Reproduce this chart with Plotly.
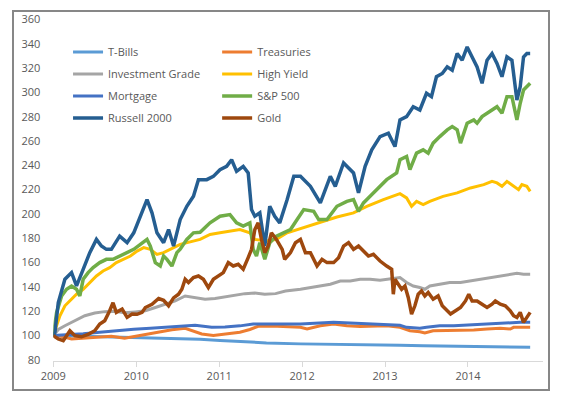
import plotly.graph_objects as go

# ---- data (decimal years, index values) ----
tb_yr = [2009.00, 2009.40, 2009.80, 2010.29, 2010.77, 2011.01, 2011.25, 2011.57, 2011.98,
         2012.38, 2012.78, 2013.18, 2013.46, 2014.07, 2014.75]
tbills = [100, 99.4, 98.5, 97.5, 97, 96, 95, 94, 93.2, 92.6, 92.3, 92, 91.7, 91.2, 90.4]

tsy_yr = [2009.00, 2009.06, 2009.22, 2009.38, 2009.54, 2009.70, 2009.86,
          2010.03, 2010.19, 2010.31, 2010.43, 2010.59, 2010.67, 2010.79, 2010.93,
          2011.09, 2011.25, 2011.37, 2011.47, 2011.63, 2011.79, 2011.98,
          2012.06, 2012.22, 2012.38, 2012.54, 2012.70, 2012.86,
          2013.02, 2013.18, 2013.30, 2013.42, 2013.48, 2013.58, 2013.74, 2013.91,
          2014.07, 2014.23, 2014.39, 2014.51, 2014.55, 2014.75]
treasuries = [100, 100, 97.2, 97.8, 98.6, 99.4, 97.8,
              99.9, 101.3, 103.2, 104.8, 106, 104, 101.3, 100,
              101.3, 102.7, 105, 107.6, 107.8, 107.6, 106.8,
              105.4, 108.1, 109.5, 108.1, 107.5, 107.5,
              108.1, 106.8, 104, 103.2, 102.1, 104, 104, 104,
              104.6, 105.4, 106, 105.4, 106.8, 106.8]

ig_yr = [2009.00, 2009.06, 2009.14, 2009.22, 2009.30, 2009.38, 2009.50, 2009.62, 2009.74, 2009.86, 2009.99,
         2010.11, 2010.23, 2010.35, 2010.47, 2010.59, 2010.71, 2010.83, 2010.95,
         2011.07, 2011.19, 2011.31, 2011.43, 2011.55, 2011.68, 2011.80, 2011.98,
         2012.10, 2012.22, 2012.34, 2012.46, 2012.58, 2012.70, 2012.82, 2012.94,
         2013.06, 2013.18, 2013.26, 2013.34, 2013.42, 2013.48, 2013.54, 2013.66, 2013.78, 2013.91,
         2014.03, 2014.15, 2014.27, 2014.39, 2014.51, 2014.59, 2014.67, 2014.75]
inv_grade = [100, 105, 108.1, 110.9, 113.6, 116.3, 118.5, 119.7, 120, 118.7, 119.5,
             120.4, 123.1, 125.8, 128.5, 132.6, 131.3, 129.9, 130.5,
             131.8, 133, 134.5, 135, 134, 134.5, 136.7, 138.1,
             139.5, 140.8, 142.2, 144.9, 144.9, 146.3, 146.3, 145.5,
             146.3, 147.7, 143.6, 140.8, 139.5, 138.1, 140.8, 142.2, 143.6, 143.6,
             144.9, 146.3, 147.7, 149, 150.4, 151.2, 150.4, 150.4]

hy_yr = [2009.00, 2009.04, 2009.08, 2009.14, 2009.20, 2009.28, 2009.36, 2009.44, 2009.52, 2009.60,
         2009.68, 2009.76, 2009.84, 2009.93,
         2010.01, 2010.09, 2010.17, 2010.25, 2010.33, 2010.41, 2010.53, 2010.77, 2010.89,
         2011.01, 2011.13, 2011.25, 2011.37, 2011.43, 2011.57, 2011.69, 2011.82, 2011.94,
         2012.06, 2012.18, 2012.30, 2012.42, 2012.62, 2012.78, 2012.98,
         2013.14, 2013.18, 2013.26, 2013.32, 2013.38, 2013.46, 2013.54, 2013.70, 2013.87,
         2014.03, 2014.19, 2014.29, 2014.35, 2014.41, 2014.47, 2014.55, 2014.61, 2014.65, 2014.71, 2014.75]
high_yield = [100, 108, 116.3, 124.5, 128.5, 134, 138.1, 143.6, 149, 153.1, 155.9, 160, 162.7, 165.4,
              169.5, 172.3, 170.9, 166.8, 168.2, 170.9, 175, 179.1, 183.2,
              184.5, 185.9, 187.2, 184.5, 179.1, 177.7, 179.1, 184.5, 187.2,
              190, 192.7, 195.4, 197.5, 200.9, 206.3, 211.8,
              215.9, 216.7, 213.2, 206.3, 210.4, 207.7, 210.4, 214.5, 217.3,
              221.4, 224.1, 226.8, 225.5, 222.7, 226.8, 222.7, 220, 224.1, 222.7, 218.6]

mbs_yr = [2009.00, 2009.16, 2009.36, 2009.56, 2009.76, 2009.97,
          2010.17, 2010.37, 2010.59, 2010.71, 2010.91,
          2011.07, 2011.25, 2011.41, 2011.61, 2011.98,
          2012.38, 2012.54, 2012.70,
          2013.02, 2013.18, 2013.26, 2013.42, 2013.50, 2013.66, 2013.83, 2013.99,
          2014.15, 2014.31, 2014.47, 2014.63, 2014.75]
mortgage = [100, 100.5, 101.5, 102.7, 104, 105.2,
            106, 106.8, 108, 108.5, 106.8,
            107, 108, 109.5, 109.5, 109.5,
            110.9, 110.5, 109.5,
            109, 108.5, 106.8, 106, 106.8, 108.1, 108.1, 108.7,
            109.5, 110, 110.3, 110.9, 110.9]

sp_yr = [2009.00, 2009.04, 2009.10, 2009.16, 2009.22, 2009.28, 2009.32, 2009.36, 2009.42, 2009.48,
         2009.56, 2009.64, 2009.72, 2009.80, 2009.89, 2009.97,
         2010.05, 2010.13, 2010.17, 2010.23, 2010.29, 2010.33, 2010.37, 2010.43, 2010.49, 2010.53,
         2010.61, 2010.69, 2010.77, 2010.89,
         2011.01, 2011.13, 2011.21, 2011.29, 2011.37, 2011.41, 2011.45, 2011.49, 2011.55, 2011.61,
         2011.69, 2011.77, 2011.86, 2011.94,
         2012.02, 2012.14, 2012.20, 2012.30, 2012.42, 2012.54, 2012.62, 2012.68, 2012.74, 2012.82, 2012.94,
         2013.02, 2013.14, 2013.18, 2013.26, 2013.30, 2013.38, 2013.46, 2013.52, 2013.58, 2013.66,
         2013.75, 2013.81, 2013.87, 2013.91, 2013.99,
         2014.07, 2014.11, 2014.17, 2014.23, 2014.29, 2014.35, 2014.41, 2014.47, 2014.53, 2014.59,
         2014.63, 2014.67, 2014.75]
sp500 = [100, 119, 132.6, 138.1, 140.8, 138.1, 132.6, 146.3, 151.8, 155.9,
         160.0, 162.7, 162.7, 165.4, 168.2, 170.9,
         175.0, 179.1, 173.6, 160.0, 157.2, 165.4, 162.7, 157.2, 168.2, 171.0,
         179.1, 184.5, 185.0, 192.7,
         198.1, 199.5, 192.7, 190.0, 192.7, 170.9, 165.4, 176.4, 162.7, 176.4,
         181.8, 184.5, 187.2, 195.4,
         203.6, 202.2, 195.4, 195.4, 206.3, 210.4, 211.8, 202.2, 209.1, 214.5, 222.7,
         228.2, 233.7, 244.6, 247.3, 236.4, 250.0, 252.7, 250.0, 258.2, 263.6,
         269.1, 271.8, 269.1, 258.2, 274.6,
         277.3, 274.6, 280.0, 282.8, 285.5, 288.2, 282.8, 296.4, 296.4, 277.3,
         291.0, 301.9, 307.4]

rus_yr = [2009.00, 2009.02, 2009.06, 2009.14, 2009.22, 2009.28, 2009.36, 2009.44, 2009.52, 2009.58,
          2009.64, 2009.70, 2009.80, 2009.89, 2009.97,
          2010.05, 2010.13, 2010.19, 2010.25, 2010.33, 2010.39, 2010.45, 2010.53, 2010.61, 2010.69,
          2010.75, 2010.85, 2010.93,
          2011.01, 2011.09, 2011.15, 2011.21, 2011.29, 2011.35, 2011.39, 2011.43, 2011.49, 2011.55,
          2011.61, 2011.67, 2011.73, 2011.82, 2011.90, 2011.98,
          2012.10, 2012.22, 2012.34, 2012.40, 2012.50, 2012.62, 2012.68, 2012.76, 2012.84, 2012.94,
          2013.04, 2013.12, 2013.18, 2013.26, 2013.34, 2013.42, 2013.50, 2013.56, 2013.62, 2013.69,
          2013.75, 2013.81, 2013.87, 2013.93, 2013.99,
          2014.05, 2014.11, 2014.17, 2014.23, 2014.29, 2014.35, 2014.41, 2014.47, 2014.53, 2014.59,
          2014.63, 2014.67, 2014.71, 2014.75]
russell = [100, 102.7, 127.2, 146.3, 151.8, 140.8, 154.5, 168.2, 179.1, 173.6,
           170.9, 170.9, 181.8, 176.4, 184.5,
           198.1, 211.8, 200.9, 184.5, 176.4, 187.2, 173.6, 195.4, 206.3, 214.5,
           228.2, 228.2, 230.9,
           236.4, 239.1, 244.6, 235.0, 239.1, 233.7, 203.6, 198.1, 200.9, 173.6,
           206.3, 198.1, 192.7, 211.8, 230.9, 230.9,
           222.7, 209.1, 230.9, 222.7, 241.9, 233.7, 217.3, 239.1, 252.7, 263.6,
           266.4, 255.4, 277.3, 280.0, 288.2, 285.5, 299.2, 296.4, 312.8, 315.5,
           320.9, 318.2, 331.9, 326.4, 337.3,
           329.1, 320.9, 307.4, 326.4, 331.9, 323.7, 312.8, 329.1, 326.4, 293.7,
           304.6, 329.1, 331.9, 331.9]

gold_yr = [2009.00, 2009.06, 2009.12, 2009.20, 2009.26, 2009.34, 2009.42, 2009.50, 2009.56, 2009.62,
           2009.68, 2009.72, 2009.76, 2009.83, 2009.89, 2009.95,
           2010.01, 2010.07, 2010.11, 2010.19, 2010.27, 2010.33, 2010.39, 2010.45, 2010.51, 2010.55,
           2010.59, 2010.63, 2010.69, 2010.75, 2010.81, 2010.87, 2010.93, 2010.99,
           2011.05, 2011.11, 2011.17, 2011.23, 2011.29, 2011.35, 2011.39, 2011.43, 2011.47, 2011.51,
           2011.55, 2011.59, 2011.63, 2011.69, 2011.76, 2011.79, 2011.86, 2011.92, 2011.98,
           2012.04, 2012.10, 2012.18, 2012.24, 2012.30, 2012.38, 2012.44, 2012.50, 2012.56, 2012.62,
           2012.68, 2012.74, 2012.80, 2012.86, 2012.94,
           2013.02, 2013.08, 2013.10, 2013.12, 2013.16, 2013.20, 2013.24, 2013.28, 2013.32, 2013.36,
           2013.40, 2013.44, 2013.48, 2013.52, 2013.58, 2013.64, 2013.69, 2013.75, 2013.79, 2013.85,
           2013.91, 2013.97,
           2014.01, 2014.05, 2014.11, 2014.17, 2014.23, 2014.29, 2014.33, 2014.39, 2014.45, 2014.51,
           2014.55, 2014.59, 2014.63, 2014.67, 2014.71, 2014.75]
gold = [100, 97.2, 95.8, 104, 99.9, 99, 101, 104, 109.5, 112.2,
        120.4, 127, 119.1, 121.8, 115, 117.7,
        117.5, 119.1, 123.1, 125.8, 130.5, 129, 124.5, 131, 134, 138.1,
        146.3, 143.6, 147.7, 149, 146.3, 139.5, 146.3, 149,
        151.8, 160, 157.2, 158.6, 154.5, 164.1, 170.9, 187.2, 192.7, 179.1,
        168.2, 173.6, 184.5, 179.1, 170.9, 162.7, 168.2, 176.4, 179.1,
        168.2, 168.2, 157.2, 162.7, 160, 160, 164.1, 173.6, 176.4, 170.9,
        173.6, 169.5, 165.4, 166.8, 161.3,
        157.2, 154.5, 134, 146.3, 142.2, 138.1, 140.8, 131.3, 117.7, 124.5,
        134, 136.7, 132.6, 135.4, 129.9, 132.6, 124.5, 120.4, 117.7, 120.4,
        123.1, 128.5,
        134, 128.5, 128.5, 125.8, 123.1, 125.8, 128.5, 125.8, 124.5, 120.4,
        116.3, 114.9, 119.1, 110.9, 114.9, 119.1]

year_ticks = [2009, 2010, 2011, 2012, 2013, 2014]
year_labels = ["2009", "2010", "2011", "2012", "2013", "2014"]
y_ticks = [80, 100, 120, 140, 160, 180, 200, 220, 240, 260, 280, 300, 320, 340, 360]

series = [
    ("T-Bills", tb_yr, tbills, "#5B9BD5", "legend", 3),
    ("Treasuries", tsy_yr, treasuries, "#ED7D31", "legend2", 3),
    ("Investment Grade", ig_yr, inv_grade, "#A5A5A5", "legend", 3),
    ("High Yield", hy_yr, high_yield, "#FFC000", "legend2", 3),
    ("Mortgage", mbs_yr, mortgage, "#4472C4", "legend", 3),
    ("S&P 500", sp_yr, sp500, "#70AD47", "legend2", 3.5),
    ("Russell 2000", rus_yr, russell, "#255E91", "legend", 3.5),
    ("Gold", gold_yr, gold, "#9E480E", "legend2", 3.5),
]

FONT = "Open Sans"
TXT = "#595959"
FRAME = "#878787"

fig = go.Figure()
for name, xs, ys, color, leg, lw in series:
    fig.add_trace(go.Scatter(
        x=xs, y=ys, name=name, mode="lines",
        line=dict(color=color, width=lw),
        legend=leg, legendgroup=name,
    ))

# empty helper trace so the outer frame axes exist
fig.add_trace(go.Scatter(x=[], y=[], xaxis="x2", yaxis="y2",
                         showlegend=False, hoverinfo="skip"))

legend_common = dict(
    xanchor="left", yanchor="top",
    bgcolor="rgba(0,0,0,0)", borderwidth=0,
    font=dict(family=FONT, size=11, color=TXT),
    traceorder="grouped", tracegroupgap=3,
    itemwidth=30,
)

# page is offset by the 8px body margin -> figure is 554x391
fig.update_layout(
    width=554, height=391,
    margin=dict(l=6, r=14, t=4, b=10, autoexpand=False),
    paper_bgcolor="white", plot_bgcolor="rgba(0,0,0,0)",
    font=dict(family=FONT, size=11, color=TXT),
    showlegend=True,
    legend=dict(x=0.1012, y=0.9325, **legend_common),
    legend2=dict(x=0.3804, y=0.9325, **legend_common),
    xaxis=dict(
        domain=[0.0736, 0.9899],
        range=[2009, 2014.9], tickmode="array",
        tickvals=year_ticks, ticktext=year_labels,
        showgrid=False, zeroline=False,
        showline=True, linecolor="#D9D9D9", linewidth=1,
        ticks="outside", ticklen=5, tickcolor="#D9D9D9", tickwidth=1,
        tickfont=dict(family=FONT, size=11, color=TXT),
        ticklabeloverflow="allow",
    ),
    yaxis=dict(
        domain=[0.0755, 0.9815],
        range=[79.5, 360.3], tickmode="array", tickvals=y_ticks,
        showgrid=False, zeroline=False, showline=False, ticks="",
        tickfont=dict(family=FONT, size=11, color=TXT),
        ticklabelstandoff=12, ticklabeloverflow="allow",
    ),
    xaxis2=dict(
        domain=[0, 1], anchor="y2", range=[0, 1],
        showline=True, mirror=True, linecolor=FRAME, linewidth=2,
        showgrid=False, zeroline=False, showticklabels=False, ticks="",
        fixedrange=True,
    ),
    yaxis2=dict(
        domain=[0, 1], anchor="x2", range=[0, 1],
        showline=True, mirror=True, linecolor=FRAME, linewidth=2,
        showgrid=False, zeroline=False, showticklabels=False, ticks="",
        fixedrange=True,
    ),
)

fig.write_html("out.html")
